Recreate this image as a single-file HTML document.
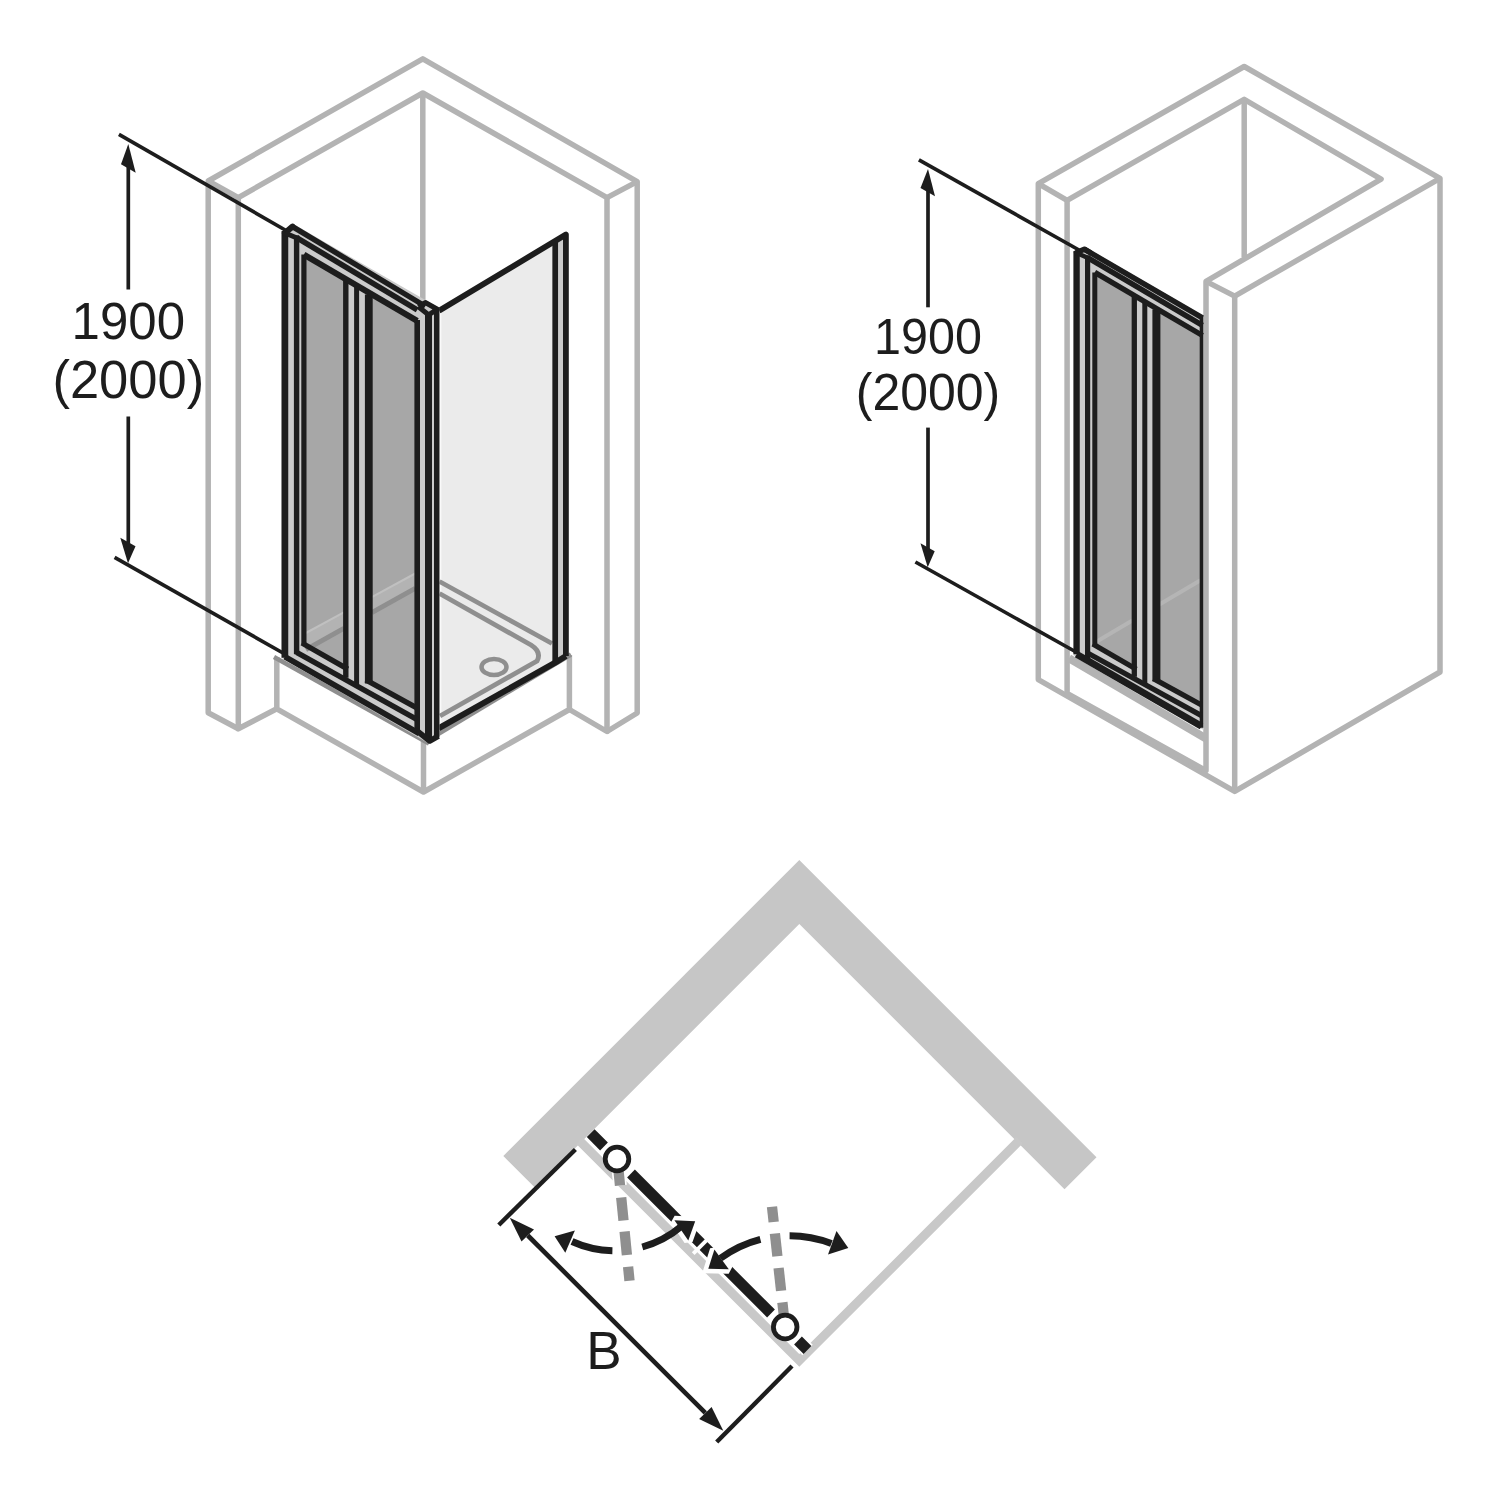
<!DOCTYPE html><html><head><meta charset="utf-8"><style>html,body{margin:0;padding:0;background:#fff;}svg{display:block;}text{font-family:"Liberation Sans",sans-serif;fill:#1d1d1d;}</style></head><body>
<svg width="1500" height="1500" viewBox="0 0 1500 1500">
<rect width="1500" height="1500" fill="#fff"/>
<polyline points="238.3,728.8 208.2,712.8 208.2,181 422.8,58.9 637.2,181.6 637.2,713 607,731.5" fill="none" stroke="#b3b3b3" stroke-width="5.5" stroke-linejoin="round" stroke-linecap="butt"/>
<polyline points="276.8,708.8 238.3,728.8 238.3,197.6 422.8,93 607,197.6 607,731.5 569.4,709.5" fill="none" stroke="#b3b3b3" stroke-width="5.5" stroke-linejoin="round" stroke-linecap="butt"/>
<line x1="208.2" y1="181" x2="238.3" y2="197.6" stroke="#b3b3b3" stroke-width="5.5" stroke-linecap="butt"/>
<line x1="637.2" y1="181.6" x2="607" y2="197.6" stroke="#b3b3b3" stroke-width="5.5" stroke-linecap="butt"/>
<line x1="422.8" y1="93" x2="422.8" y2="302" stroke="#b3b3b3" stroke-width="5.5" stroke-linecap="butt"/>
<polyline points="276.8,657 276.8,708.8 423.5,792 569.4,709.5 569.4,655" fill="none" stroke="#b3b3b3" stroke-width="5.5" stroke-linejoin="round" stroke-linecap="butt"/>
<line x1="423.5" y1="738" x2="423.5" y2="792" stroke="#b3b3b3" stroke-width="5.5" stroke-linecap="butt"/>
<line x1="274" y1="657" x2="429" y2="743.5" stroke="#8f8f8f" stroke-width="4.4" stroke-linecap="butt"/>
<line x1="429" y1="739.6" x2="571" y2="654.5" stroke="#8f8f8f" stroke-width="4.4" stroke-linecap="butt"/>
<polygon points="439,310.3 552.5,242.5 552.5,664.2 439,728.1" fill="#ebebeb"/>
<polygon points="555,241 566,234.5 566,654 555,660" fill="#cbcbcb"/>
<line x1="440.4" y1="312.4" x2="440.4" y2="724.3" stroke="#fafafa" stroke-width="1.8" stroke-linecap="butt"/>
<polyline points="439.5,581.5 552,643.5" fill="none" stroke="#8f8f8f" stroke-width="4.6" stroke-linejoin="miter" stroke-linecap="butt"/>
<path d="M439.5,593.5 L531,645 Q542,652 537,661 L440,716" fill="none" stroke="#8f8f8f" stroke-width="4.8"/>
<ellipse cx="494" cy="667" rx="12.5" ry="8" fill="none" stroke="#8f8f8f" stroke-width="4.5"/>
<line x1="555.2" y1="241.9" x2="555.2" y2="662.7" stroke="#1d1d1d" stroke-width="5.7" stroke-linecap="butt"/>
<polyline points="439,310.8 565.9,234.5 565.9,656" fill="none" stroke="#1d1d1d" stroke-width="5.8" stroke-linejoin="round" stroke-linecap="butt"/>
<polyline points="438.5,728.4 555.2,662.7 565.9,656" fill="none" stroke="#1d1d1d" stroke-width="6" stroke-linejoin="round" stroke-linecap="butt"/>
<polygon points="281.5,233 292.5,223.6 425.3,300 439.5,308 439.5,737 429.7,744 281.5,657.8" fill="#cbcbcb"/>
<polygon points="303.9,254.6 345.8,279.1 345.8,668 303.9,644.1" fill="#a7a7a7"/>
<polygon points="368.8,292.6 417.2,320.9 417.2,708.2 368.8,681.6" fill="#a7a7a7"/>
<polygon points="305.9,633 343.8,612.4 343.8,628.4 305.9,649.6" fill="#b3b3b3"/>
<line x1="305.9" y1="633" x2="343.8" y2="612.4" stroke="#c0c0c0" stroke-width="2" stroke-linecap="butt"/>
<line x1="305.9" y1="649.6" x2="343.8" y2="628.4" stroke="#8f8f8f" stroke-width="4.8" stroke-linecap="butt"/>
<polygon points="371.8,597.1 415.2,573.5 415.2,588.4 371.8,612.7" fill="#b3b3b3"/>
<line x1="371.8" y1="597.1" x2="415.2" y2="573.5" stroke="#c0c0c0" stroke-width="2" stroke-linecap="butt"/>
<line x1="371.8" y1="612.7" x2="415.2" y2="588.4" stroke="#8f8f8f" stroke-width="4.8" stroke-linecap="butt"/>
<line x1="284.9" y1="231" x2="284.9" y2="657.7" stroke="#1d1d1d" stroke-width="6.7" stroke-linecap="butt"/>
<line x1="296.6" y1="235.6" x2="296.6" y2="654.3" stroke="#1d1d1d" stroke-width="5.4" stroke-linecap="butt"/>
<line x1="303.9" y1="254.6" x2="303.9" y2="644.1" stroke="#1d1d1d" stroke-width="5.2" stroke-linecap="butt"/>
<line x1="345.8" y1="279.1" x2="345.8" y2="677.8" stroke="#1d1d1d" stroke-width="5.4" stroke-linecap="butt"/>
<line x1="356.6" y1="286.5" x2="356.6" y2="684.9" stroke="#1d1d1d" stroke-width="5" stroke-linecap="butt"/>
<line x1="368.8" y1="294.6" x2="368.8" y2="683.6" stroke="#1d1d1d" stroke-width="7.8" stroke-linecap="butt"/>
<line x1="417.2" y1="319.9" x2="417.2" y2="731.3" stroke="#1d1d1d" stroke-width="5.6" stroke-linecap="butt"/>
<line x1="428.5" y1="314" x2="428.5" y2="740" stroke="#1d1d1d" stroke-width="7" stroke-linecap="butt"/>
<line x1="436.7" y1="309.5" x2="436.7" y2="737" stroke="#1d1d1d" stroke-width="5.4" stroke-linecap="butt"/>
<line x1="292.5" y1="226.6" x2="425.3" y2="306.3" stroke="#1d1d1d" stroke-width="5.4" stroke-linecap="butt"/>
<line x1="296.6" y1="237.6" x2="417.2" y2="309.9" stroke="#1d1d1d" stroke-width="5.6" stroke-linecap="butt"/>
<line x1="303.9" y1="254.6" x2="417.2" y2="320.9" stroke="#1d1d1d" stroke-width="6" stroke-linecap="butt"/>
<line x1="284.9" y1="656.7" x2="419.2" y2="733.4" stroke="#1d1d1d" stroke-width="5.8" stroke-linecap="butt"/>
<line x1="296.6" y1="652.3" x2="417.2" y2="719.7" stroke="#1d1d1d" stroke-width="5.4" stroke-linecap="butt"/>
<line x1="301.9" y1="643" x2="347.8" y2="669.2" stroke="#1d1d1d" stroke-width="5.4" stroke-linecap="butt"/>
<line x1="365.8" y1="679.9" x2="417.2" y2="708.2" stroke="#1d1d1d" stroke-width="5.4" stroke-linecap="butt"/>
<polyline points="284.9,233 292.5,226.6" fill="none" stroke="#1d1d1d" stroke-width="6" stroke-linejoin="round" stroke-linecap="round"/>
<line x1="284.9" y1="233" x2="297.6" y2="238.2" stroke="#1d1d1d" stroke-width="5" stroke-linecap="butt"/>
<polyline points="418.4,306.8 425.3,302.5 437.3,309.3 428.5,314.8 418.4,306.8" fill="none" stroke="#1d1d1d" stroke-width="5" stroke-linejoin="round" stroke-linecap="butt"/>
<polyline points="417.2,731 429.7,741 438.5,736" fill="none" stroke="#1d1d1d" stroke-width="5.6" stroke-linejoin="round" stroke-linecap="butt"/>
<line x1="118.9" y1="134.3" x2="286" y2="230.5" stroke="#1d1d1d" stroke-width="3.7" stroke-linecap="butt"/>
<line x1="114.6" y1="557.3" x2="283" y2="653" stroke="#1d1d1d" stroke-width="3.7" stroke-linecap="butt"/>
<polygon points="128.3,144 121,164.3 135.7,172.7" fill="#1d1d1d"/>
<polygon points="128,563.3 120.3,537.7 135.5,546.3" fill="#1d1d1d"/>
<line x1="128.3" y1="164.5" x2="128.3" y2="289.5" stroke="#1d1d1d" stroke-width="3.7" stroke-linecap="butt"/>
<line x1="128.3" y1="416.5" x2="128.3" y2="546" stroke="#1d1d1d" stroke-width="3.7" stroke-linecap="butt"/>
<text transform="translate(128.3,338.8) scale(1,1.03)" font-size="51" text-anchor="middle">1900</text>
<text transform="translate(128.3,398.2) scale(1,1.03)" font-size="52.5" text-anchor="middle">(2000)</text>
<polygon points="1038.3,679.6 1038.3,183.6 1244.2,66.5 1440,178.3 1440,672 1234.7,791.4" fill="none" stroke="#b3b3b3" stroke-width="5.5" stroke-linejoin="round" stroke-linecap="butt"/>
<line x1="1038.3" y1="183.6" x2="1067.1" y2="200.4" stroke="#b3b3b3" stroke-width="5.5" stroke-linecap="butt"/>
<polygon points="1067.1,693.5 1067.1,200.4 1244.2,99.4 1381.1,179.1 1206,281.4 1206,770.6" fill="none" stroke="#b3b3b3" stroke-width="5.5" stroke-linejoin="round" stroke-linecap="butt"/>
<line x1="1244.2" y1="99.4" x2="1244.2" y2="257.1" stroke="#b3b3b3" stroke-width="5.5" stroke-linecap="butt"/>
<polyline points="1206,281.4 1234.7,296.1 1440,178.3" fill="none" stroke="#b3b3b3" stroke-width="5.5" stroke-linejoin="round" stroke-linecap="butt"/>
<line x1="1234.7" y1="296.1" x2="1234.7" y2="791.4" stroke="#b3b3b3" stroke-width="5.5" stroke-linecap="butt"/>
<line x1="1069" y1="658.3" x2="1206" y2="738.5" stroke="#b3b3b3" stroke-width="8" stroke-linecap="butt"/>
<polygon points="1073.5,252 1084.3,246.5 1204,316.1 1204,730.2 1073.5,655.2" fill="#cbcbcb"/>
<polygon points="1094.8,272.4 1134.3,295.5 1134.3,668.2 1094.8,645.1" fill="#a7a7a7"/>
<polygon points="1156.4,308.5 1201.5,334.9 1201.5,705 1156.4,680.2" fill="#a7a7a7"/>
<line x1="1096.8" y1="641.5" x2="1132.3" y2="620.5" stroke="#b5b5b5" stroke-width="4" stroke-linecap="butt"/>
<line x1="1159.4" y1="604.5" x2="1200.5" y2="580.3" stroke="#b5b5b5" stroke-width="4" stroke-linecap="butt"/>
<line x1="1076.6" y1="251" x2="1076.6" y2="654.3" stroke="#1d1d1d" stroke-width="6.3" stroke-linecap="butt"/>
<line x1="1087.6" y1="255.6" x2="1087.6" y2="660.6" stroke="#1d1d1d" stroke-width="5.2" stroke-linecap="butt"/>
<line x1="1094.8" y1="272.4" x2="1094.8" y2="645.1" stroke="#1d1d1d" stroke-width="5" stroke-linecap="butt"/>
<line x1="1134.3" y1="295.5" x2="1134.3" y2="676.7" stroke="#1d1d1d" stroke-width="5.3" stroke-linecap="butt"/>
<line x1="1144.8" y1="302.7" x2="1144.8" y2="684.5" stroke="#1d1d1d" stroke-width="5" stroke-linecap="butt"/>
<line x1="1156.4" y1="309.5" x2="1156.4" y2="681.2" stroke="#1d1d1d" stroke-width="8" stroke-linecap="butt"/>
<line x1="1201.5" y1="315.7" x2="1201.5" y2="727.7" stroke="#1d1d1d" stroke-width="3.6" stroke-linecap="butt"/>
<line x1="1084.3" y1="249.2" x2="1202.5" y2="317.8" stroke="#1d1d1d" stroke-width="5.4" stroke-linecap="butt"/>
<line x1="1087.6" y1="257.6" x2="1202.5" y2="325.4" stroke="#1d1d1d" stroke-width="5.4" stroke-linecap="butt"/>
<line x1="1094.8" y1="272.4" x2="1202.5" y2="335.5" stroke="#1d1d1d" stroke-width="5.4" stroke-linecap="butt"/>
<line x1="1076.6" y1="654.3" x2="1201.5" y2="726.2" stroke="#1d1d1d" stroke-width="7" stroke-linecap="butt"/>
<line x1="1087.6" y1="653" x2="1201.5" y2="715.6" stroke="#1d1d1d" stroke-width="5.2" stroke-linecap="butt"/>
<line x1="1092.8" y1="643.9" x2="1136.3" y2="669.3" stroke="#1d1d1d" stroke-width="5.2" stroke-linecap="butt"/>
<line x1="1153.4" y1="678.6" x2="1201.5" y2="705" stroke="#1d1d1d" stroke-width="5.2" stroke-linecap="butt"/>
<path d="M1076.6,252.5 L1084.3,249.2 L1090,252.5" fill="none" stroke="#1d1d1d" stroke-width="5.4" stroke-linejoin="round" stroke-linecap="round"/>
<line x1="1076.6" y1="253" x2="1088.6" y2="258.2" stroke="#1d1d1d" stroke-width="4.6" stroke-linecap="butt"/>
<line x1="918.9" y1="159.9" x2="1079" y2="250" stroke="#1d1d1d" stroke-width="3.7" stroke-linecap="butt"/>
<line x1="915.4" y1="562" x2="1076" y2="652" stroke="#1d1d1d" stroke-width="3.7" stroke-linecap="butt"/>
<polygon points="928,169 920.5,188 935,196.3" fill="#1d1d1d"/>
<polygon points="927.7,567.3 920.5,543.3 934.7,551.3" fill="#1d1d1d"/>
<line x1="928" y1="188.2" x2="928" y2="307.3" stroke="#1d1d1d" stroke-width="3.7" stroke-linecap="butt"/>
<line x1="928" y1="427.6" x2="928" y2="551.3" stroke="#1d1d1d" stroke-width="3.7" stroke-linecap="butt"/>
<text transform="translate(928,354.2) scale(1,1.03)" font-size="48.5" text-anchor="middle">1900</text>
<text transform="translate(928,409.8) scale(1,1.03)" font-size="50" text-anchor="middle">(2000)</text>
<polygon points="503.3,1156 799.3,860 1096.5,1157.2 1064.5,1189.2 799.3,924 535.3,1188" fill="#c6c6c6"/>
<polyline points="579.5,1140.7 799.3,1360.5 1019.5,1140.3" fill="none" stroke="#c8c8c8" stroke-width="9" stroke-linejoin="miter" stroke-linecap="butt"/>
<line x1="590.7" y1="1133.2" x2="604" y2="1146.5" stroke="#ffffff" stroke-width="14.6" stroke-linecap="butt"/>
<line x1="631" y1="1173.5" x2="771" y2="1313.5" stroke="#ffffff" stroke-width="14.6" stroke-linecap="butt"/>
<line x1="798" y1="1340.5" x2="807.5" y2="1350" stroke="#ffffff" stroke-width="14.6" stroke-linecap="butt"/>
<line x1="590.7" y1="1133.2" x2="604" y2="1146.5" stroke="#1d1d1d" stroke-width="11" stroke-linecap="butt"/>
<line x1="631" y1="1173.5" x2="771" y2="1313.5" stroke="#1d1d1d" stroke-width="11" stroke-linecap="butt"/>
<line x1="798" y1="1340.5" x2="807.5" y2="1350" stroke="#1d1d1d" stroke-width="11" stroke-linecap="butt"/>
<line x1="693.2" y1="1253.7" x2="711.2" y2="1235.7" stroke="#ffffff" stroke-width="3.8" stroke-linecap="butt"/>
<polygon points="674.4,1220.3 695.2,1221.3 688.3,1240.5" fill="#fff" stroke="#fff" stroke-width="9" stroke-linejoin="miter" stroke-miterlimit="2"/>
<polygon points="728.8,1269.3 708.3,1268.8 714.4,1249.6" fill="#fff" stroke="#fff" stroke-width="9" stroke-linejoin="miter" stroke-miterlimit="2"/>
<line x1="618" y1="1165" x2="620" y2="1185.5" stroke="#ffffff" stroke-width="13.7" stroke-linecap="butt"/>
<line x1="621.2" y1="1197.5" x2="623.5" y2="1220.5" stroke="#ffffff" stroke-width="13.7" stroke-linecap="butt"/>
<line x1="624.6" y1="1231.5" x2="626.9" y2="1255" stroke="#ffffff" stroke-width="13.7" stroke-linecap="butt"/>
<line x1="628.1" y1="1266.7" x2="629.5" y2="1280.7" stroke="#ffffff" stroke-width="13.7" stroke-linecap="butt"/>
<line x1="618" y1="1165" x2="620" y2="1185.5" stroke="#8f8f8f" stroke-width="10.3" stroke-linecap="butt"/>
<line x1="621.2" y1="1197.5" x2="623.5" y2="1220.5" stroke="#8f8f8f" stroke-width="10.3" stroke-linecap="butt"/>
<line x1="624.6" y1="1231.5" x2="626.9" y2="1255" stroke="#8f8f8f" stroke-width="10.3" stroke-linecap="butt"/>
<line x1="628.1" y1="1266.7" x2="629.5" y2="1280.7" stroke="#8f8f8f" stroke-width="10.3" stroke-linecap="butt"/>
<line x1="772" y1="1206.7" x2="773.7" y2="1222" stroke="#ffffff" stroke-width="13.7" stroke-linecap="butt"/>
<line x1="774.9" y1="1233.5" x2="777.4" y2="1256.3" stroke="#ffffff" stroke-width="13.7" stroke-linecap="butt"/>
<line x1="778.6" y1="1268" x2="781.1" y2="1290.8" stroke="#ffffff" stroke-width="13.7" stroke-linecap="butt"/>
<line x1="782.4" y1="1302.4" x2="784.1" y2="1318" stroke="#ffffff" stroke-width="13.7" stroke-linecap="butt"/>
<line x1="772" y1="1206.7" x2="773.7" y2="1222" stroke="#8f8f8f" stroke-width="10.3" stroke-linecap="butt"/>
<line x1="774.9" y1="1233.5" x2="777.4" y2="1256.3" stroke="#8f8f8f" stroke-width="10.3" stroke-linecap="butt"/>
<line x1="778.6" y1="1268" x2="781.1" y2="1290.8" stroke="#8f8f8f" stroke-width="10.3" stroke-linecap="butt"/>
<line x1="782.4" y1="1302.4" x2="784.1" y2="1318" stroke="#8f8f8f" stroke-width="10.3" stroke-linecap="butt"/>
<path d="M612.4,1250.7 A103.4,103.4 0 0 1 572,1241.5" fill="none" stroke="#1d1d1d" stroke-width="7"/>
<path d="M681.9,1225.9 A103.4,103.4 0 0 1 642.3,1247" fill="none" stroke="#1d1d1d" stroke-width="7"/>
<polygon points="554.6,1236.3 574.9,1230.4 565.3,1252.8" fill="#1d1d1d"/>
<path d="M720.5,1258.3 A116.6,116.6 0 0 1 760.4,1239.4" fill="none" stroke="#1d1d1d" stroke-width="7"/>
<path d="M789.6,1235.7 A116.6,116.6 0 0 1 831.4,1243.5" fill="none" stroke="#1d1d1d" stroke-width="7"/>
<polygon points="848.3,1248 836.5,1230.9 828,1254.4" fill="#1d1d1d"/>
<polygon points="674.4,1220.3 695.2,1221.3 688.3,1240.5" fill="#1d1d1d"/>
<polygon points="728.8,1269.3 708.3,1268.8 714.4,1249.6" fill="#1d1d1d"/>
<circle cx="617" cy="1159" r="11.8" fill="#fff" stroke="#1d1d1d" stroke-width="4.8"/>
<circle cx="785.2" cy="1327" r="11.8" fill="#fff" stroke="#1d1d1d" stroke-width="4.8"/>
<line x1="792" y1="1366" x2="716.7" y2="1442" stroke="#ffffff" stroke-width="8" stroke-linecap="butt"/>
<line x1="498.8" y1="1225" x2="575.4" y2="1149.5" stroke="#1d1d1d" stroke-width="4.4" stroke-linecap="butt"/>
<line x1="792" y1="1366" x2="716.7" y2="1442" stroke="#1d1d1d" stroke-width="4.4" stroke-linecap="butt"/>
<line x1="527.8" y1="1235.5" x2="705.3" y2="1412.9" stroke="#1d1d1d" stroke-width="4.6" stroke-linecap="butt"/>
<polygon points="509.8,1217.7 534,1229.4 521.5,1241.5" fill="#1d1d1d"/>
<polygon points="723.3,1430.7 699.1,1419 711.6,1406.9" fill="#1d1d1d"/>
<text x="586.2" y="1368.6" font-size="53">B</text>
</svg></body></html>
